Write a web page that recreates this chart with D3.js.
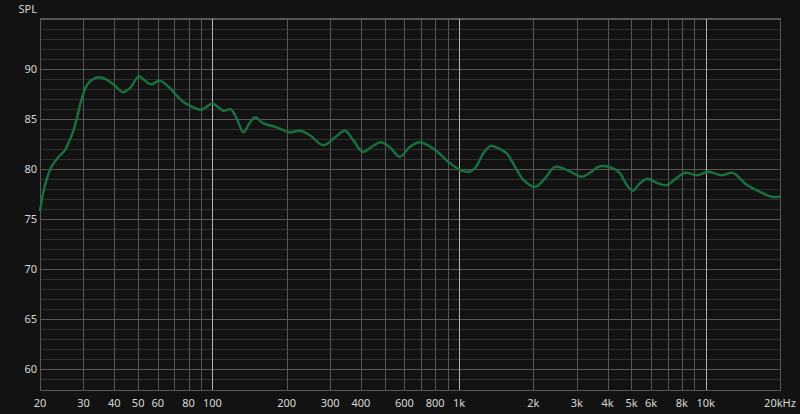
<!DOCTYPE html>
<html>
<head>
<meta charset="utf-8">
<script src="https://cdn.jsdelivr.net/npm/d3@7"></script>
<style>
  html, body { margin: 0; padding: 0; background: #121212; }
  svg { display: block; }
  text { font-family: "Noto Sans", "Open Sans", sans-serif; font-size: 11px; fill: #d8d8d8; }
</style>
</head>
<body>
<svg id="chart" width="800" height="414"></svg>
<script>
// frequency response
var freqs = [20, 20.9, 22.2, 23.7, 25.2, 26.8, 28.1, 29.4, 30.8, 32.3, 34.4, 37.1, 40.1, 43.4, 46.2,
  50.4, 53.1, 56.2, 61.1, 66.1, 70.3, 76, 82.1, 90.1, 100, 110.7, 118.6, 125.4, 133.5, 141.2,
  148.9, 160.9, 182.3, 205, 226.5, 248.6, 281.5, 314, 345, 372.8, 406.5, 442.4, 481, 524.6,
  574, 632.5, 694, 798, 904.6, 1008, 1090, 1160, 1254, 1343, 1442, 1560, 1686, 1822, 2031,
  2230, 2448, 2731, 3141, 3394, 3727, 4287, 4490, 4780, 5055, 5413, 5795, 6325, 6945, 7505,
  8244, 9190, 10249, 11604, 12862, 14657, 16594, 18510, 20000];
var spl = [75.8, 78.3, 80.2, 81.2, 81.9, 83.3, 84.9, 86.9, 88.3, 88.9, 89.2, 89.0, 88.4, 87.7, 88.1,
  89.3, 88.9, 88.5, 88.85, 88.3, 87.6, 86.75, 86.3, 85.95, 86.55, 85.85, 86.0, 85.1, 83.7, 84.6,
  85.2, 84.6, 84.2, 83.7, 83.85, 83.4, 82.4, 83.2, 83.85, 82.9, 81.75, 82.25, 82.7, 82.2,
  81.25, 82.25, 82.7, 81.95, 80.75, 79.95, 79.75, 80.1, 81.6, 82.35, 82.1, 81.6, 80.25, 78.95, 78.25,
  79.1, 80.25, 79.95, 79.25, 79.65, 80.3, 80.0, 79.6, 78.45, 77.85, 78.6, 79.05, 78.65, 78.4, 79.0,
  79.65, 79.4, 79.75, 79.4, 79.65, 78.45, 77.75, 77.25, 77.25];

var xTickVals = [20, 30, 40, 50, 60, 80, 100, 200, 300, 400, 600, 800, 1000, 2000, 3000, 4000, 5000, 6000, 8000, 10000, 20000];
var xTickLabels = ["20", "30", "40", "50", "60", "80", "100", "200", "300", "400", "600", "800", "1k", "2k", "3k", "4k", "5k", "6k", "8k", "10k", "20kHz"];
var xGridVals = [30, 40, 50, 60, 70, 80, 90, 200, 300, 400, 500, 600, 700, 800, 900, 2000, 3000, 4000, 5000, 6000, 7000, 8000, 9000];
var xDecades = [100, 1000, 10000];
var yTickVals = [60, 65, 70, 75, 80, 85, 90];
var yMinorVals = d3.range(58, 96);

var svg = d3.select("#chart");
var pLeft = 40, pRight = 780, pTop = 18, pBottom = 390;

var x = d3.scaleLog().domain([20, 20000]).range([pLeft, pRight]);
var y = d3.scaleLinear().domain([60, 90]).range([369.3, 69.3]);

function px(v) { return Math.round(v) + 0.5; }

// horizontal grid
svg.append("g").selectAll("line")
  .data(yMinorVals.filter(function(v) { return y(v) > pTop + 1 && y(v) < pBottom - 1; }))
  .enter().append("line")
  .attr("x1", pLeft).attr("x2", pRight)
  .attr("y1", function(d) { return px(y(d)); })
  .attr("y2", function(d) { return px(y(d)); })
  .attr("stroke", function(d) { return d % 5 === 0 ? "#575757" : "#303030"; });

// vertical grid
svg.append("g").selectAll("line").data(xGridVals)
  .enter().append("line")
  .attr("x1", function(d) { return px(x(d)); })
  .attr("x2", function(d) { return px(x(d)); })
  .attr("y1", pTop).attr("y2", pBottom)
  .attr("stroke", "#555");

svg.append("g").selectAll("line").data(xDecades)
  .enter().append("line")
  .attr("x1", function(d) { return px(x(d)); })
  .attr("x2", function(d) { return px(x(d)); })
  .attr("y1", pTop).attr("y2", pBottom)
  .attr("stroke", "#b0b0b0");

// frame
svg.append("rect")
  .attr("x", pLeft + 0.5).attr("y", pTop + 0.5)
  .attr("width", pRight - pLeft).attr("height", pBottom - pTop)
  .attr("fill", "none").attr("stroke", "#575757");

// x labels
svg.append("g").selectAll("text").data(xTickVals)
  .enter().append("text")
  .attr("x", function(d) { return x(d); })
  .attr("y", 407)
  .attr("text-anchor", "middle")
  .text(function(d, i) { return xTickLabels[i]; });

// y labels
svg.append("g").selectAll("text").data(yTickVals)
  .enter().append("text")
  .attr("x", 37)
  .attr("y", function(d) { return y(d) + 4; })
  .attr("text-anchor", "end")
  .text(function(d) { return d; });

svg.append("text").attr("x", 37).attr("y", 13).attr("text-anchor", "end").text("SPL");

// curve
var line = d3.line()
  .x(function(d, i) { return x(freqs[i]); })
  .y(function(d) { return y(d); })
  .curve(d3.curveCatmullRom.alpha(0.5));

svg.append("path")
  .datum(spl)
  .attr("d", line)
  .attr("fill", "none")
  .attr("stroke", "#18713f")
  .attr("stroke-width", 2.4)
  .attr("stroke-linejoin", "round");
</script>
</body>
</html>
